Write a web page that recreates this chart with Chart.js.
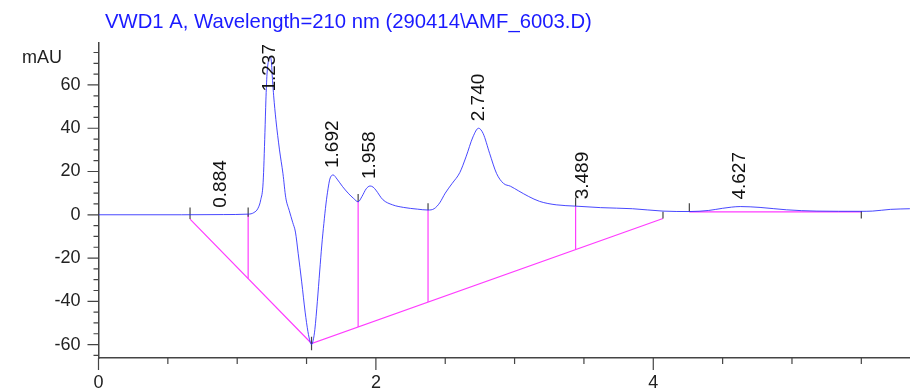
<!DOCTYPE html>
<html>
<head>
<meta charset="utf-8">
<script src="https://cdn.jsdelivr.net/npm/chart.js@4.4.1/dist/chart.umd.min.js"></script>
<style>
  html, body { margin: 0; padding: 0; background: #fff; overflow: hidden; }
  canvas { display: block; }
</style>
</head>
<body>
<canvas id="myChart" width="910" height="388"></canvas>
<script>
// signal trace (retention time in min, absorbance in mAU)
const rt = [0, 0.60, 0.90, 1.08, 1.12, 1.15, 1.17, 1.187, 1.20, 1.207,
  1.215, 1.228, 1.237, 1.246, 1.255, 1.263, 1.279, 1.305, 1.33, 1.35,
  1.375, 1.40, 1.42, 1.44, 1.465, 1.49, 1.51, 1.525, 1.536, 1.548,
  1.56, 1.578, 1.595, 1.61, 1.625, 1.64, 1.655, 1.668, 1.692, 1.72,
  1.76, 1.80, 1.84, 1.872, 1.90, 1.93, 1.958, 1.98, 2.00, 2.05,
  2.12, 2.20, 2.30, 2.376, 2.42, 2.46, 2.50, 2.55, 2.605, 2.65,
  2.70, 2.740, 2.773, 2.82, 2.87, 2.92, 2.97, 3.03, 3.10, 3.18,
  3.30, 3.44, 3.62, 3.85, 4.07, 4.26, 4.40, 4.50, 4.627, 4.77,
  4.96, 5.18, 5.49, 5.58, 5.71, 5.85];
const signal = [0, 0, 0.1, 0.3, 1.0, 3.0, 7.0, 15, 38, 53,
  65, 72, 73, 71, 62, 55, 44, 30, 19, 8,
  2, -3.5, -8, -18, -31, -45, -54, -58.5, -60, -58,
  -53, -40, -26, -14, -4, 5, 12, 16.5, 18.4, 16.5,
  13, 10, 7.5, 6.0, 8.5, 12, 13.3, 12.8, 11.4, 7.0,
  4.6, 3.4, 2.6, 2.2, 2.8, 5.5, 10, 14.5, 19.5, 26.8,
  36, 40, 37.6, 28.4, 19.1, 14.5, 13.2, 11, 8.5, 6.2,
  4.6, 4.0, 3.3, 2.8, 1.7, 1.5, 2.0, 3.0, 3.8, 3.4,
  2.3, 1.7, 1.6, 1.7, 2.5, 2.8];

// integration baselines (null = break)
const baseT = [0.66, 1.536, 4.07, 4.165, 4.26, 5.50];
const baseV = [-2.0, -59.5, -1.7, null, 1.3, 1.3];

// drop lines from signal down to baseline
const dropT = [1.079, 1.872, 2.376, 3.44];

// peak start/end event marks
const markT = [0.66, 1.079, 1.536, 1.872, 2.376, 3.44, 4.07, 4.26, 5.50];
const markTop = [3.4, 3.4, -56.4, 9.6, 5.3, 8.0, 1.4, 5.3, 1.7];
const markBottom = [-2.0, -0.9, -62.6, 6.0, 2.2, 4.0, -1.7, 1.4, -1.7];

// peak labels
const peakLabels = ['0.884', '1.237', '1.692', '1.958', '2.740', '3.489', '4.627'];
const peakH = [0, 73, 18.4, 13.3, 40, 3.9, 3.8];

// axis ticks
const xTicks = [0, 0.5, 1, 1.5, 2, 2.5, 3, 3.5, 4, 4.5, 5, 5.5];
const yTicks = [-65, -60, -55, -50, -45, -40, -35, -30, -25, -20, -15, -10, -5, 0,
  5, 10, 15, 20, 25, 30, 35, 40, 45, 50, 55, 60, 65, 70, 75];

const title = 'VWD1 A, Wavelength=210 nm (290414\\AMF_6003.D)';

function interp(xs, ys, x) {
  for (let i = 0; i < xs.length - 1; i++) {
    if (ys[i] == null || ys[i + 1] == null) continue;
    if (x >= xs[i] && x <= xs[i + 1]) {
      return ys[i] + (ys[i + 1] - ys[i]) * (x - xs[i]) / (xs[i + 1] - xs[i]);
    }
  }
  return 0;
}

const tracePts = rt.map((t, i) => ({x: t, y: signal[i]}));
const basePts = baseT.map((t, i) => ({x: t, y: baseV[i]}));
const dropPts = [];
dropT.forEach(t => {
  dropPts.push({x: t, y: interp(rt, signal, t)});
  dropPts.push({x: t, y: interp(baseT, baseV, t)});
  dropPts.push({x: t, y: null});
});
const markPts = [];
markT.forEach((t, i) => {
  markPts.push({x: t, y: markTop[i]});
  markPts.push({x: t, y: markBottom[i]});
  markPts.push({x: t, y: null});
});

Chart.defaults.font.family = '"Liberation Sans", Arial, sans-serif';
Chart.defaults.color = '#222';

const extras = {
  id: 'extras',
  afterDraw(chart) {
    const ctx = chart.ctx, xs = chart.scales.x, ys = chart.scales.y, area = chart.chartArea;
    ctx.save();
    // tick marks
    ctx.strokeStyle = '#444';
    ctx.lineWidth = 1.2;
    ctx.beginPath();
    xs.ticks.forEach(t => {
      const px = xs.getPixelForValue(t.value);
      const len = t.value % 2 === 0 ? 12 : 6;
      ctx.moveTo(px, area.bottom);
      ctx.lineTo(px, area.bottom + len);
    });
    ys.ticks.forEach(t => {
      const py = ys.getPixelForValue(t.value);
      const len = t.value % 20 === 0 ? 11 : 5;
      ctx.moveTo(area.left, py);
      ctx.lineTo(area.left - len, py);
    });
    ctx.stroke();

    // title and unit
    ctx.fillStyle = '#1a1aff';
    ctx.font = '20.3px "Liberation Sans", Arial, sans-serif';
    ctx.textAlign = 'left';
    ctx.textBaseline = 'alphabetic';
    ctx.fillText(title, 105, 28);
    ctx.fillStyle = '#222';
    ctx.font = '18px "Liberation Sans", Arial, sans-serif';
    ctx.fillText('mAU', 22, 63);

    // peak labels, rotated
    ctx.fillStyle = '#111';
    ctx.font = '19px "Liberation Sans", Arial, sans-serif';
    ctx.textBaseline = 'middle';
    peakLabels.forEach((lab, i) => {
      const px = xs.getPixelForValue(parseFloat(lab));
      const w = ctx.measureText(lab).width;
      let py = ys.getPixelForValue(peakH[i]) - 7;
      if (py - w < area.top + 1) py = area.top + 1 + w;
      ctx.save();
      ctx.translate(px, py);
      ctx.rotate(-Math.PI / 2);
      ctx.fillText(lab, 0, 0);
      ctx.restore();
    });
    ctx.restore();
  }
};

const ctx = document.getElementById('myChart').getContext('2d');
const chart = new Chart(ctx, {
  type: 'line',
  data: {
    datasets: [
      {
        label: 'signal',
        data: tracePts,
        borderColor: 'rgba(40,40,255,0.85)',
        borderWidth: 1,
        pointRadius: 0,
        cubicInterpolationMode: 'monotone',
        order: 1
      },
      {
        label: 'baseline',
        data: basePts,
        borderColor: '#ff3cff',
        borderWidth: 1.2,
        pointRadius: 0,
        spanGaps: false,
        order: 3
      },
      {
        label: 'drops',
        data: dropPts,
        borderColor: '#ff3cff',
        borderWidth: 1.2,
        pointRadius: 0,
        spanGaps: false,
        order: 3
      },
      {
        label: 'events',
        data: markPts,
        borderColor: '#444',
        borderWidth: 1.2,
        pointRadius: 0,
        spanGaps: false,
        order: 2
      }
    ]
  },
  options: {
    responsive: false,
    animation: false,
    layout: { padding: { top: 43, left: 0, right: 0, bottom: 0 } },
    plugins: { legend: { display: false }, tooltip: { enabled: false } },
    scales: {
      x: {
        type: 'linear',
        min: 0,
        max: 5.851,
        afterBuildTicks: s => { s.ticks = xTicks.map(v => ({value: v})); },
        afterFit: s => { s.height = 30; },
        grid: { drawOnChartArea: false, drawTicks: true, tickLength: 11, color: 'rgba(0,0,0,0)' },
        border: { display: true, color: '#444', width: 1.5 },
        ticks: {
          autoSkip: false,
          maxRotation: 0,
          padding: 3,
          font: { size: 18 },
          callback: v => (v % 2 === 0 ? String(v) : '')
        }
      },
      y: {
        type: 'linear',
        min: -66.2,
        max: 79.4,
        afterBuildTicks: s => { s.ticks = yTicks.map(v => ({value: v})); },
        afterFit: s => { s.width = 98.5; },
        grid: { drawOnChartArea: false, drawTicks: true, tickLength: 11, color: 'rgba(0,0,0,0)' },
        border: { display: true, color: '#444', width: 1.5 },
        ticks: {
          autoSkip: false,
          padding: 7,
          font: { size: 18 },
          callback: v => (v % 20 === 0 ? String(v) : '')
        }
      }
    }
  },
  plugins: [extras]
});
</script>
</body>
</html>
